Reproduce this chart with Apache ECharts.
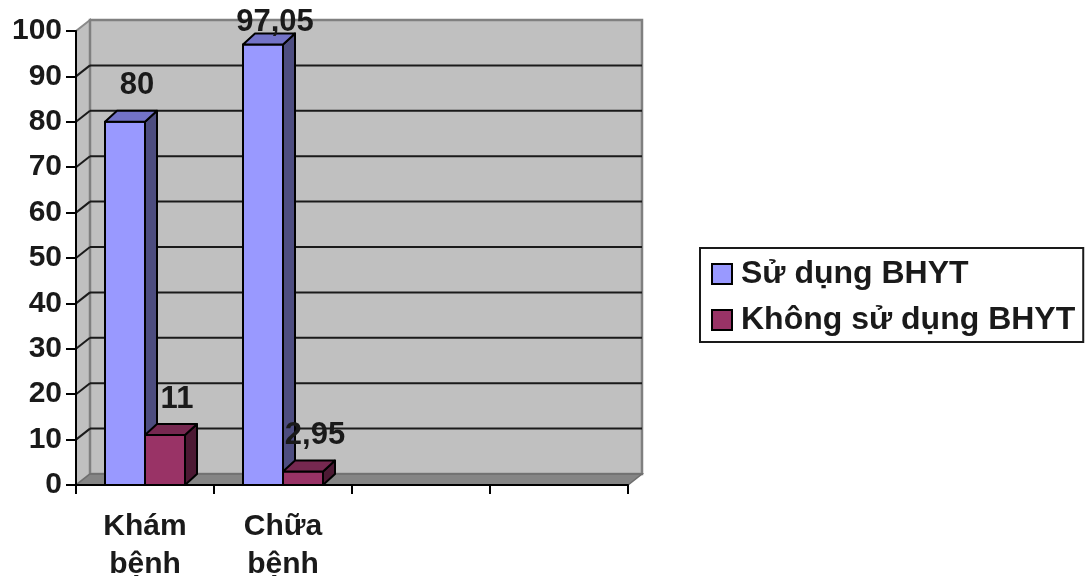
<!DOCTYPE html>
<html>
<head>
<meta charset="utf-8">
<script src="https://cdn.jsdelivr.net/npm/echarts@6/dist/echarts.min.js"></script>
<style>html,body{margin:0;padding:0;background:#fff}#c{width:1086px;height:576px}</style>
</head>
<body>
<div id="c"></div>
<script>
const categories = ['Khám\nbệnh', 'Chữa\nbệnh', '', ''];
const seriesNames = ['Sử dụng BHYT', 'Không sử dụng BHYT'];
const suDung = [80, 97.05, null, null];
const khongSuDung = [11, 2.95, null, null];
const yMin = 0, yMax = 100, yStep = 10;

const FONT = 'Liberation Sans, Arial, sans-serif';
const TXT = '#1a1a1a';
const WDX = 14, WDY = -11;   // wall depth
const BDX = 12, BDY = -11;   // bar depth
const BARW = 40;

const palette = [
  {front: '#9999FF', side: '#4D4D80', top: '#7373C8'},
  {front: '#993366', side: '#4C1933', top: '#762850'}
];

function wallRender(params, api) {
  const cs = params.coordSys;
  const x0 = cs.x, x1 = cs.x + cs.width;
  const y0 = api.coord([0, yMin])[1], yt = api.coord([0, yMax])[1];
  const ch = [];
  ch.push({type: 'polygon', shape: {points: [[x0, y0], [x0, yt], [x0 + WDX, yt + WDY], [x0 + WDX, y0 + WDY]]},
    style: {fill: '#C0C0C0', stroke: '#8a8a8a', lineWidth: 2}});
  ch.push({type: 'rect', shape: {x: x0 + WDX, y: yt + WDY, width: x1 - x0, height: y0 - yt},
    style: {fill: '#C0C0C0', stroke: '#808080', lineWidth: 2.5}});
  for (let v = yMin + yStep; v < yMax; v += yStep) {
    const y = api.coord([0, v])[1];
    ch.push({type: 'line', shape: {x1: x0 + WDX, y1: y + WDY, x2: x1 + WDX, y2: y + WDY},
      style: {stroke: '#1a1a1a', lineWidth: 2}});
    ch.push({type: 'line', shape: {x1: x0, y1: y, x2: x0 + WDX, y2: y + WDY},
      style: {stroke: '#1a1a1a', lineWidth: 2}});
  }
  ch.push({type: 'polygon', shape: {points: [[x0, y0], [x0 + WDX, y0 + WDY], [x1 + WDX, y0 + WDY], [x1, y0]]},
    style: {fill: '#858585', stroke: '#6e6e6e', lineWidth: 1.5}});
  return {type: 'group', children: ch};
}

function makeBarRender(si) {
  return function (params, api) {
    const idx = api.value(0), val = api.value(1);
    const c = api.coord([idx, val]);
    const yb = api.coord([idx, yMin])[1];
    const xl = si === 0 ? c[0] - BARW : c[0];
    const yt = c[1];
    const col = palette[si];
    const st = {stroke: '#000', lineWidth: 2, lineJoin: 'round'};
    const xr = xl + BARW;
    const label = String(val).replace('.', ',');
    const ly = Math.max(yt - 36, 22);
    return {type: 'group', children: [
      {type: 'polygon', shape: {points: [[xr, yb], [xr, yt], [xr + BDX, yt + BDY], [xr + BDX, yb + BDY]]},
        style: Object.assign({fill: col.side}, st)},
      {type: 'rect', shape: {x: xl, y: yt, width: BARW, height: yb - yt},
        style: Object.assign({fill: col.front}, st)},
      {type: 'polygon', shape: {points: [[xl, yt], [xl + BDX, yt + BDY], [xr + BDX, yt + BDY], [xr, yt]]},
        style: Object.assign({fill: col.top}, st)},
      {type: 'text', x: xl + BARW / 2 + 12, y: ly,
        style: {text: label, fill: TXT, font: 'bold 31px ' + FONT, align: 'center', verticalAlign: 'middle'}}
    ]};
  };
}

function toData(arr) {
  const out = [];
  arr.forEach((v, i) => { if (v !== null) out.push([i, v]); });
  return out;
}

const chart = echarts.init(document.getElementById('c'), null, {renderer: 'canvas'});
chart.setOption({
  animation: false,
  backgroundColor: '#fff',
  grid: {left: 76, top: 31, width: 552, height: 454, containLabel: false, outerBoundsMode: 'none'},
  legend: {
    data: seriesNames,
    orient: 'vertical',
    left: 700, top: 248,
    padding: [10, 8, 6, 11],
    itemWidth: 20, itemHeight: 20, itemGap: 14,
    borderColor: '#1a1a1a', borderWidth: 2,
    icon: 'rect',
    itemStyle: {borderColor: '#000', borderWidth: 2},
    textStyle: {fontFamily: FONT, fontSize: 32, fontWeight: 'bold', color: TXT, lineHeight: 32, padding: [0, 0, 0, 4]}
  },
  xAxis: {
    type: 'category', data: categories, z: 10,
    axisLine: {lineStyle: {color: '#000', width: 2}},
    axisTick: {show: true, length: 9, lineStyle: {color: '#000', width: 2}},
    axisLabel: {fontFamily: FONT, fontSize: 30, fontWeight: 'bold', color: TXT, lineHeight: 38, margin: 23, interval: 0},
    splitLine: {show: false}
  },
  yAxis: {
    type: 'value', min: yMin, max: yMax, interval: yStep, z: 10,
    axisLine: {show: true, lineStyle: {color: '#000', width: 2}},
    axisTick: {show: true, length: 10, lineStyle: {color: '#000', width: 2}},
    axisLabel: {fontFamily: FONT, fontSize: 30, fontWeight: 'bold', color: TXT, margin: 14},
    splitLine: {show: false}
  },
  series: [
    {type: 'custom', name: '__wall', silent: true, z: 1, clip: false, renderItem: wallRender, data: [[0, 0]]},
    {type: 'custom', name: seriesNames[0], z: 3, clip: false, renderItem: makeBarRender(0), data: toData(suDung),
      itemStyle: {color: palette[0].front, borderColor: '#000', borderWidth: 2}},
    {type: 'custom', name: seriesNames[1], z: 3, clip: false, renderItem: makeBarRender(1), data: toData(khongSuDung),
      itemStyle: {color: palette[1].front, borderColor: '#000', borderWidth: 2}}
  ]
});
</script>
</body>
</html>
